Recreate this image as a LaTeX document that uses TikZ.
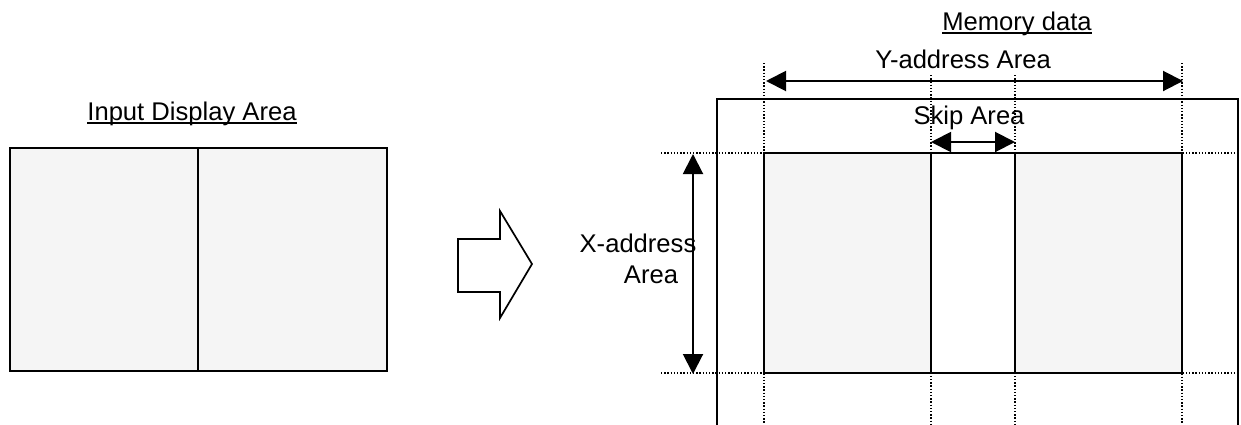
\documentclass[tikz,border=0pt]{standalone}
\usepackage{fontspec}
\setmainfont{Liberation Sans}
\usetikzlibrary{arrows.meta}
\definecolor{areagray}{HTML}{F5F5F5}
\begin{document}
\begin{tikzpicture}[x=1pt,y=-1pt,
  lbl/.style={font=\fontsize{25.6}{29}\selectfont, inner sep=0pt, anchor=base},
  uline/.style={line width=1.6pt},
  boxline/.style={line width=2.1pt},
  thinline/.style={line width=1.6pt},
  guide/.style={line width=1.3pt, dash pattern=on 1.3pt off 1.9pt},
  dimarrow/.style={line width=2pt, {Triangle[length=20pt,width=20pt]}-{Triangle[length=20pt,width=20pt]}},
]
\useasboundingbox (0,0) rectangle (1241,424);
% ---- left: input display area
\fill[areagray] (10,148) rectangle (387,371);
\draw[boxline] (10,148) rectangle (387,371);
\draw[boxline] (198,148) -- (198,371);
\node[lbl] (tin) at (192,120) {Input Display Area};
\draw[uline] ([yshift=-3pt]tin.base west) -- ([yshift=-3pt]tin.base east);
% ---- block arrow
\draw[line width=1.7pt, line join=miter]
  (458,239) -- (500,239) -- (500,211) -- (532,264) -- (500,318) -- (500,292) -- (458,292) -- cycle;
% ---- right: memory data
\node[lbl] (tmem) at (1017,30) {Memory data};
\draw[uline] ([yshift=-3pt]tmem.base west) -- ([yshift=-3pt]tmem.base east);
\draw[thinline] (717,430) -- (717,99) -- (1238,99) -- (1238,430);
\fill[areagray] (764,153) rectangle (931,373);
\fill[areagray] (1015,153) rectangle (1182,373);
\draw[boxline] (764,153) rectangle (1182,373);
\draw[boxline] (931,153) -- (931,373);
\draw[boxline] (1015,153) -- (1015,373);
% guides
\draw[guide] (764,63) -- (764,424);
\draw[guide] (1182,63) -- (1182,424);
\draw[guide] (931,75) -- (931,424);
\draw[guide] (1015,75) -- (1015,424);
\draw[guide] (661,153) -- (1236,153);
\draw[guide] (661,373) -- (1236,373);
% dimension arrows
\coordinate (ya) at (766,81);
\coordinate (yb) at (1183,81);
\draw[dimarrow] (ya) -- (yb);
\node[lbl] (ty) at (963,68) {Y-address Area};
\coordinate (sa) at (931,142);
\coordinate (sb) at (1015,142);
\draw[dimarrow] (sa) -- (sb);
\node[lbl] (ts) at (969,124) {Skip Area};
\coordinate (xa) at (693,154);
\coordinate (xb) at (693,374);
\draw[dimarrow] (xa) -- (xb);
\node[lbl] (tx1) at (638,252) {X-address};
\node[lbl] (tx2) at (651,283) {Area};
\end{tikzpicture}
\end{document}
